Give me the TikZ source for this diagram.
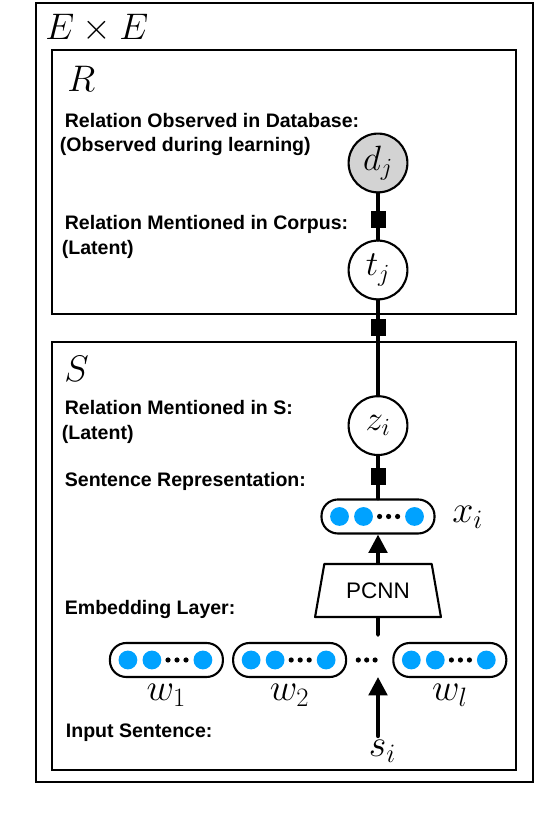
\documentclass[tikz,border=0pt]{standalone}
\usepackage{fix-cm}
\usepackage{amsmath,amssymb}
\usepackage{xcolor}
\usepackage{fontspec}
\usepackage{tikz}
\usetikzlibrary{shapes.geometric,arrows.meta,positioning}
\newfontfamily\helv{Liberation Sans}
\definecolor{dotblue}{RGB}{0,162,255}
\definecolor{obsgray}{RGB}{211,211,211}

\begin{document}
\begin{tikzpicture}[line cap=round,line join=round,x=1.0cm,y=1.0cm,
  >={Triangle[length=0.46cm,width=0.46cm]},
  plate/.style={draw,line width=2.1pt,line join=miter},
  platename/.style={anchor=base west,inner sep=0pt,font=\fontsize{26.3}{30}\selectfont},
  var/.style={circle,draw,line width=1.5pt,minimum size=1.47cm,inner sep=0pt,font=\fontsize{25}{28}\selectfont},
  factor/.style={rectangle,fill=black,minimum width=0.375cm,minimum height=0.425cm,inner sep=0pt},
  vecbox/.style={rectangle,rounded corners=0.41cm,draw,line width=1.5pt,minimum width=2.825cm,minimum height=0.85cm,inner sep=0pt},
  veclabel/.style={inner sep=0pt,font=\fontsize{27}{30}\selectfont},
  lbl/.style={anchor=base west,inner sep=0pt,font=\helv\bfseries\fontsize{13.9}{17}\selectfont},
  wire/.style={line width=2.8pt}]
			\useasboundingbox (0,0) rectangle (13.95,20.45);
			% plates
			\draw [plate] (0.9,0.9) rectangle (13.325,20.375);
			\draw [plate] (1.3,12.6) rectangle (12.9,19.2);
			\draw [plate] (1.3,1.2) rectangle (12.9,11.9);
			\node [platename] (ee) at (1.125,19.45) {$E\times E$};
			\node [platename] (rr) at (1.675,18.15) {$R$};
			\node [platename] (ss) at (1.6,10.9) {$S$};
			% text on the left
			\node [lbl] (dbtxt) at (1.615,17.25) {Relation Observed in Database:};
			\node [lbl] (dbnote) at (1.49,16.65) {(Observed during learning)};
			\node [lbl] (corptxt) at (1.615,14.7) {Relation Mentioned in Corpus:};
			\node [lbl] (corpnote) at (1.54,14.075) {(Latent)};
			\node [lbl] (stxt) at (1.615,10.075) {Relation Mentioned in S:};
			\node [lbl] (snote) at (1.54,9.45) {(Latent)};
			\node [lbl] (reptxt) at (1.615,8.275) {Sentence Representation:};
			\node [lbl] (embtxt) at (1.615,5.075) {Embedding Layer:};
			\node [lbl] (inptxt) at (1.64,2.0) {Input Sentence:};
			% variables
			\node [var,fill=obsgray] (dj) at (9.45,16.375) {$d_j$};
			\node [var] (tj) at (9.45,13.7) {$t_j$};
			\node [var] (zi) at (9.45,9.81) {$z_i$};
			\node [factor] (f1) at (9.45,14.9625) {};
			\node [factor] (f2) at (9.45,12.2625) {};
			\node [factor] (f3) at (9.45,8.525) {};
			\node [vecbox] (xi) at (9.45,7.5375) {};
			\node [veclabel,anchor=base west] (xilbl) at (11.3,7.375) {$x_i$};
			\node [trapezium,draw,line width=1.5pt,trapezium angle=71,trapezium stretches=true,
			       minimum width=3.15cm,minimum height=1.325cm,inner sep=0pt,
			       font=\helv\fontsize{16}{18}\selectfont] (pcnn) at (9.45,5.6875) {PCNN};
			\coordinate (emb) at (9.45,4.575);
			% word vectors
			\node [vecbox] (w1) at (4.16,3.95) {};
			\node [vecbox] (w2) at (7.24,3.95) {};
			\node [vecbox] (wl) at (11.245,3.95) {};
			\node [veclabel,below=0.15cm of w1] (w1lbl) {$w_1$};
			\node [veclabel,below=0.15cm of w2] (w2lbl) {$w_2$};
			\node [veclabel,below=0.15cm of wl] (wllbl) {$w_l$};
			\coordinate (gap) at (9.1675,3.95);
			\coordinate (sent) at (9.45,3.525);
			\node [veclabel,anchor=base west,inner sep=0.3em] (si) at (9.11,1.525) {$s_i$};
			% dots inside the vectors
			\foreach \b in {xi,w1,w2,wl}{
				\foreach \dx in {-0.9625,-0.3625,0.9125}
					\fill [dotblue] (\b) ++(\dx,0) circle (0.235);
				\foreach \dx in {0.04,0.265,0.49}
					\fill (\b) ++(\dx,0) circle (0.065);
			}
			\foreach \dx in {-0.21,0,0.21}
				\fill (gap) ++(\dx,0) circle (0.065);
			% connectors
			\draw [wire] (dj) -- (f1) -- (tj);
			\draw [wire] (tj) -- (f2) -- (zi);
			\draw [wire] (zi) -- (f3) -- (xi);
			\draw [wire,->] (pcnn) -- (xi);
			\draw [wire] (pcnn) -- (emb);
			\draw [wire,->] (si.north -| sent) -- (sent);
\end{tikzpicture}
\end{document}
